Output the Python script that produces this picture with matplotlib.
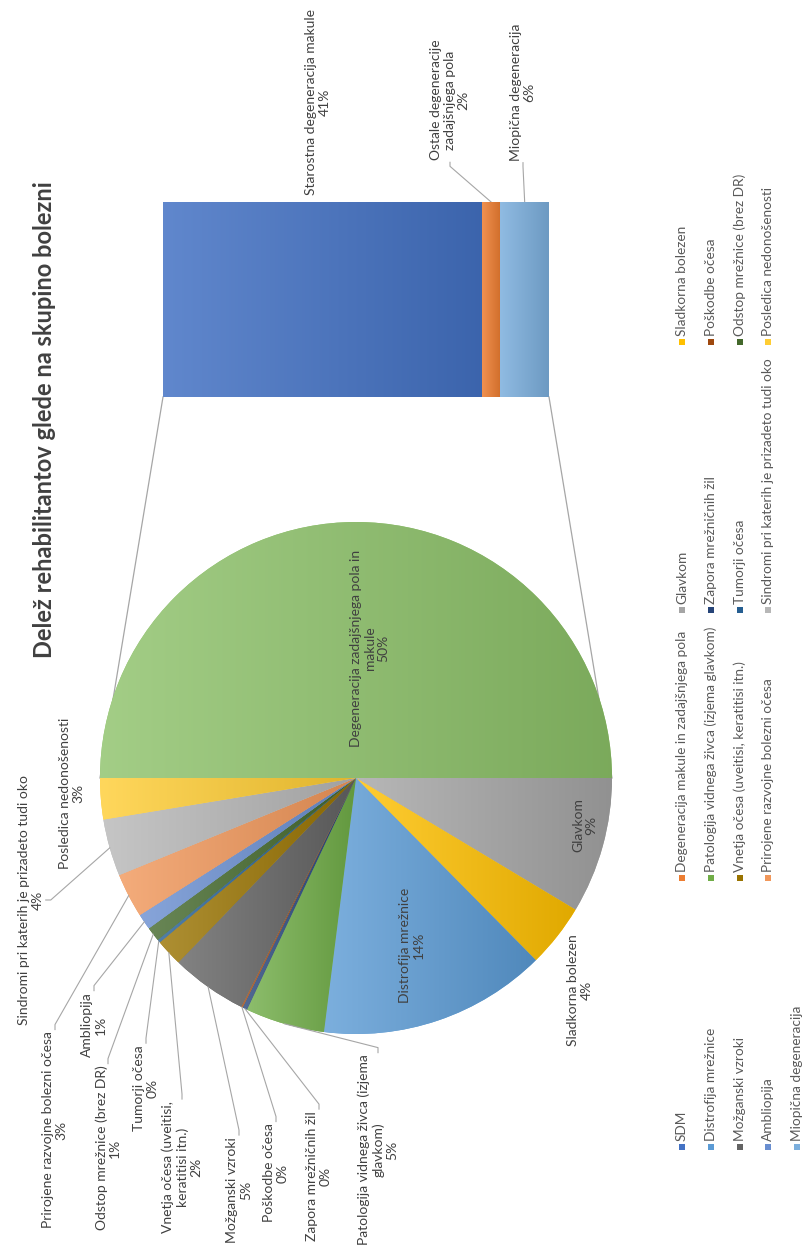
import numpy as np
import matplotlib
matplotlib.use("Agg")
import matplotlib.pyplot as plt
from matplotlib.colors import to_rgb
from matplotlib.patches import Rectangle

plt.rcParams["font.family"] = ["Lato", "DejaVu Sans"]

# =========================
# PODATKI
# =========================

TITLE = "Delež rehabilitantov glede na skupino bolezni"

# tortni del, v smeri urinega kazalca od vodoravne osi
pie_names = [
    "Glavkom",
    "Sladkorna bolezen",
    "Distrofija mrežnice",
    "Patologija vidnega živca (izjema\nglavkom)",
    "Zapora mrežničnih žil",
    "Poškodbe očesa",
    "Možganski vzroki",
    "Vnetja očesa (uveitisi,\nkeratitisi itn.)",
    "Tumorji očesa",
    "Odstop mrežnice (brez DR)",
    "Ambliopija",
    "Prirojene razvojne bolezni očesa",
    "Sindromi pri katerih je prizadeto tudi oko",
    "Posledica nedonošenosti",
    "Degeneracija zadajšnjega pola in\nmakule",
]
pie_values = [8.6, 4.0, 14.4, 5.0, 0.3, 0.1, 4.8, 1.7, 0.2, 0.9, 1.0, 2.8, 3.6, 2.6, 50.0]
pie_colors = [
    "#A5A5A5", "#FFC000", "#5B9BD5", "#70AD47", "#264478", "#9E480E",
    "#636363", "#997300", "#255E91", "#43682B", "#698ED0", "#F1975A",
    "#B7B7B7", "#FFCD33", "#8CC168",
]

# razčlenitev degeneracij v stolpcu
bar_names = [
    "Starostna degeneracija makule",
    "Ostale degeneracije\nzadajšnjega pola",
    "Miopična degeneracija",
]
bar_values = [41.3, 2.4, 6.3]
bar_colors = ["#4472C4", "#ED7D31", "#7CAFDD"]

legend_names = [
    "SDM", "Degeneracija makule in zadajšnjega pola", "Glavkom", "Sladkorna bolezen",
    "Distrofija mrežnice", "Patologija vidnega živca (izjema glavkom)",
    "Zapora mrežničnih žil", "Poškodbe očesa",
    "Možganski vzroki", "Vnetja očesa (uveitisi, keratitisi itn.)", "Tumorji očesa",
    "Odstop mrežnice (brez DR)",
    "Ambliopija", "Prirojene razvojne bolezni očesa",
    "Sindromi pri katerih je prizadeto tudi oko", "Posledica nedonošenosti",
    "Miopična degeneracija",
]
legend_colors = [
    "#4472C4", "#ED7D31", "#A5A5A5", "#FFC000",
    "#5B9BD5", "#70AD47", "#264478", "#9E480E",
    "#636363", "#997300", "#255E91", "#43682B",
    "#698ED0", "#F1975A", "#B7B7B7", "#FFCD33",
    "#7CAFDD",
]

# =========================
# POSTAVITEV (piksli, graf je zasukan za 90 stopinj)
# =========================

W, H = 804, 1256
PIE_C = (356, 778)
PIE_R = 256
BAR_BOX = (163, 202, 549, 397)  # x0, y0, x1, y1

TEXT_C = "#404040"
LEGEND_C = "#595959"
LINE_C = "#A6A6A6"
FS = 10
FS_LEG = 9.8

# (x, y, stran za povezovalno črto)
pie_label_pos = [
    (585, 825, None),
    (580, 990, None),
    (412, 945, None),
    (378, 1150, "top"),
    (319, 1176, "top"),
    (276, 1173, "top"),
    (239, 1190, "top"),
    (182, 1167, "top"),
    (146, 1088, "top"),
    (108, 1148, "top"),
    (94, 1025, "top"),
    (55, 1130, "top"),
    (31, 900, "right"),
    (72, 793, None),
    (370, 648, None),
]
bar_label_pos = [
    (318, 102, None),
    (450, 100, "bottom"),
    (523, 92, "bottom"),
]

legend_rows_x = [682, 711, 740, 768, 797]
legend_cols_y = [1147, 878, 610, 342]


def shade(axis, patch, color, light=0.2, dark=0.12):
    # vodoraven preliv: svetlejši levo, temnejši desno
    c = np.array(to_rgb(color))
    lo = c + (1 - c) * light
    hi = c * (1 - dark)
    t = np.linspace(0, 1, 128)[:, None]
    img = (lo[None, :] * (1 - t) + hi[None, :] * t)[None, :, :]
    bb = patch.get_extents().transformed(axis.transData.inverted())
    im = axis.imshow(img, extent=[bb.xmin, bb.xmax, bb.ymin, bb.ymax],
                     aspect="auto", interpolation="bilinear",
                     zorder=patch.get_zorder() + 0.01)
    im.set_clip_path(patch)


fig = plt.figure(figsize=(W / 100, H / 100), dpi=100)
ax = fig.add_axes([0, 0, 1, 1])

wedges, _ = ax.pie(pie_values, colors=pie_colors, startangle=0, counterclock=True,
                   center=PIE_C, radius=PIE_R, wedgeprops=dict(linewidth=0))
ax.set_xlim(0, W)
ax.set_ylim(H, 0)
ax.set_aspect("auto")
ax.axis("off")

for w, col in zip(wedges, pie_colors):
    shade(ax, w, col)
ax.set_xlim(0, W)
ax.set_ylim(H, 0)

# stolpec
bx0, by0, bx1, by1 = BAR_BOX
ax_bar = fig.add_axes([bx0 / W, 1 - by1 / H, (bx1 - bx0) / W, (by1 - by0) / H])
lefts = np.concatenate([[0], np.cumsum(bar_values)[:-1]])
bars = ax_bar.barh(0, bar_values, left=lefts, height=1, color=bar_colors, linewidth=0)
ax_bar.set_xlim(0, sum(bar_values))
ax_bar.set_ylim(-0.5, 0.5)
ax_bar.axis("off")
for b, col in zip(bars, bar_colors):
    shade(ax_bar, b, col, light=0.15, dark=0.12)
ax_bar.set_xlim(0, sum(bar_values))
ax_bar.set_ylim(-0.5, 0.5)


def to_main(trans, xy):
    return ax.transData.inverted().transform(trans.transform(xy))


# povezovalni črti med tortnim rezom in stolpcem
green = wedges[-1]
for corner, theta in [((0, 0), green.theta1), ((1, 0), green.theta2)]:
    p = to_main(ax_bar.transAxes, corner)
    q = (PIE_C[0] + PIE_R * np.cos(np.radians(theta)),
         PIE_C[1] + PIE_R * np.sin(np.radians(theta)))
    ax.plot([p[0], q[0]], [p[1], q[1]], color=LINE_C, lw=0.9, zorder=0.5)

renderer = fig.canvas.get_renderer()


def leader(txt, side, target):
    bb = txt.get_window_extent(renderer).transformed(ax.transData.inverted())
    xc = (bb.xmin + bb.xmax) / 2
    if side == "top":
        p = (xc, bb.ymin - 2)
        m = (p[0], p[1] - 5)
    elif side == "bottom":
        p = (xc, bb.ymax + 2)
        m = (p[0], p[1] + 4)
    else:
        p = (bb.xmax + 2, (bb.ymin + bb.ymax) / 2)
        m = (p[0] + 5, p[1])
    ax.plot([p[0], m[0], target[0]], [p[1], m[1], target[1]],
            color=LINE_C, lw=0.8, zorder=3)


# oznake tortnega dela
for w, name, v, (x, y, side) in zip(wedges, pie_names, pie_values, pie_label_pos):
    t = ax.text(x, y, f"{name}\n{v:.0f}%", rotation=90, ha="center", va="center",
                multialignment="center", fontsize=FS, color=TEXT_C, zorder=4,
                linespacing=1.15)
    if side:
        a = np.radians((w.theta1 + w.theta2) / 2)
        target = (PIE_C[0] + PIE_R * np.cos(a), PIE_C[1] + PIE_R * np.sin(a))
        leader(t, side, target)

# oznake stolpca
for b, name, v, (x, y, side) in zip(bars, bar_names, bar_values, bar_label_pos):
    t = ax.text(x, y, f"{name}\n{v:.0f}%", rotation=90, ha="center", va="center",
                multialignment="center", fontsize=FS, color=TEXT_C, zorder=4,
                linespacing=1.15)
    if side:
        target = to_main(ax_bar.transData, (b.get_x() + b.get_width() / 2, 0.5))
        leader(t, side, target)

# naslov
ax.text(45, 420, TITLE, rotation=90, ha="center", va="center",
        fontsize=17, fontweight="bold", color=TEXT_C)

# legenda
for i, (name, col) in enumerate(zip(legend_names, legend_colors)):
    r, c = divmod(i, 4)
    x, y = legend_rows_x[r], legend_cols_y[c]
    ax.add_patch(Rectangle((x - 3, y - 3), 6, 6, facecolor=col, linewidth=0))
    ax.text(x, y - 6, name, rotation=90, ha="center", va="bottom",
            fontsize=FS_LEG, color=LEGEND_C)

fig.savefig("out.png", dpi=100, facecolor="white")
